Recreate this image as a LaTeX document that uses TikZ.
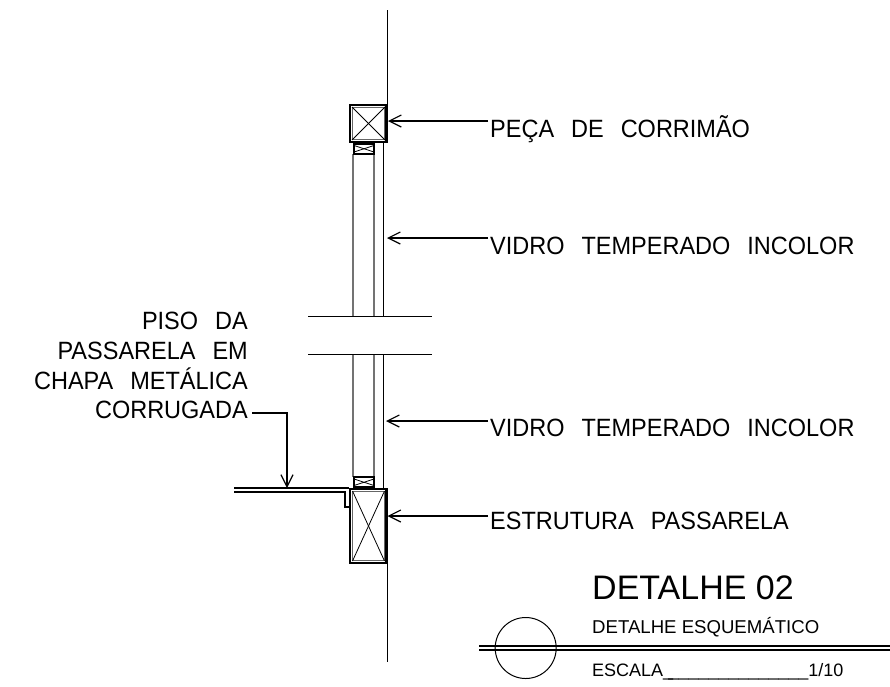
\documentclass[tikz,border=0pt]{standalone}
\usepackage{fontspec}
\setmainfont{Liberation Sans}
\newfontfamily\notefont[FakeStretch=0.94,WordSpace=2.6]{Liberation Sans}
\usetikzlibrary{arrows.meta,positioning}
\tikzset{
	note/.style={inner sep=0pt,font=\notefont\fontsize{25}{25}\selectfont},
	leader/.style={line width=1.3pt,-{Straight Barb[length=12pt,width=12pt,line width=1.2pt]}},
	glass/.style={line width=1.5pt,black!55},
	frame/.style={line width=1.7pt},
	thin/.style={line width=0.8pt},
	titletext/.style={inner sep=0pt,anchor=base west}
}
\begin{document}
\begin{tikzpicture}[x=1pt,y=-1pt]
	\useasboundingbox (0,0) rectangle (890,686);
	\draw[thin] (387,10) -- (387,104);
	\draw[thin] (387,564) -- (387,662);
	\foreach \ya/\yb in {154/316,354/477} {
		\draw[glass] (353,\ya) -- (353,\yb);
		\draw[glass] (374,\ya) -- (374,\yb);
	}
	\draw[thin] (383,143) -- (383,316);
	\draw[thin] (383,354) -- (383,488);
	\draw[thin] (308,316) -- (432,316);
	\draw[thin] (308,354) -- (432,354);
	\draw[line width=2.2pt] (350.1,105.1) rectangle (386.4,141.9);
	\draw[line width=1pt,black!60] (352.5,107.5) rectangle (384.5,139.5);
	\draw[thin] (352,107) -- (385,140);
	\draw[thin] (385,107) -- (352,140);
	\draw[line width=2.2pt] (350.1,489.1) rectangle (386.4,562.9);
	\draw[line width=1pt,black!60] (352.5,491.5) rectangle (384.5,560.5);
	\draw[thin] (352.5,491) -- (384.5,561);
	\draw[thin] (384.5,491) -- (352.5,561);
	\foreach \yc in {143.5,477} {
		\draw[line width=2.4pt] (354,\yc) rectangle (374,\yc+10.5);
		\draw[thin] (354,\yc+2) -- (374,\yc+8.5);
		\draw[thin] (374,\yc+2) -- (354,\yc+8.5);
	}
	\draw[frame] (234,488) -- (349,488);
	\draw[frame] (234,492) -- (345,492) -- (345,507) -- (349,507);
	\node[note,anchor=base west] (rail) at (490,137) {PEÇA DE CORRIMÃO};
	\node[note,anchor=base west] (glassa) at (490,254) {VIDRO TEMPERADO INCOLOR};
	\node[note,anchor=base west] (glassb) at (490,436) {VIDRO TEMPERADO INCOLOR};
	\node[note,anchor=base west] (beam) at (490,529) {ESTRUTURA PASSARELA};
	\node[note,anchor=base east] (floora) at (248,329) {PISO DA};
	\node[note,anchor=base east] (floorb) at (248,359) {PASSARELA EM};
	\node[note,anchor=base east] (floorc) at (248,389) {CHAPA METÁLICA};
	\node[note,anchor=base east] (floord) at (248,418) {CORRUGADA};
	\coordinate (railtip) at (388,121);
	\coordinate (glassatip) at (387,238);
	\coordinate (glassbtip) at (386,421);
	\coordinate (beamtip) at (387.5,516);
	\coordinate (floortip) at (287,488);
	\foreach \from/\to in {rail/railtip,glassa/glassatip,glassb/glassbtip,beam/beamtip} {
		\draw[leader] ([xshift=-2pt]\from.west |- \to) -- (\to);
	}
	\draw[leader] ([shift={(4,-5)}]floord.base east) -| (floortip);
	\node[titletext,font=\fontsize{34}{34}\selectfont] (title) at (592,599) {DETALHE 02};
	\node[titletext,font=\fontsize{18.6}{18.6}\selectfont] (subtitle) at (592,633) {DETALHE ESQUEMÁTICO};
	\node[titletext,font=\fontsize{18}{18}\selectfont] (scale) at (592,676) {ESCALA\_\kern-5pt\_\_\_\_\_\_\_\_\_\_\_\_\_\_1/10};
	\node[circle,draw,line width=1pt,minimum size=61pt,inner sep=0pt] (mark) at (525.7,648) {};
	\draw[frame] (479,646) -- (890,646);
	\draw[frame] (479,650) -- (890,650);
\end{tikzpicture}
\end{document}
